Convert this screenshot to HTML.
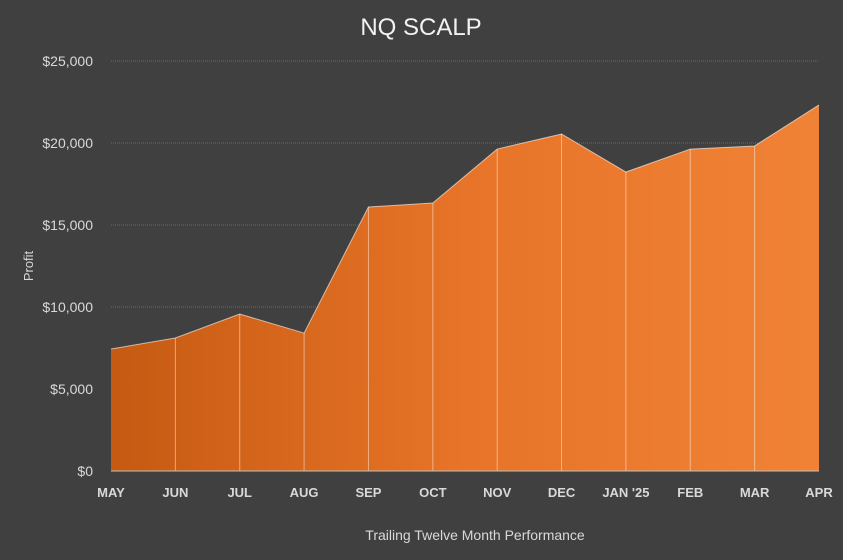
<!DOCTYPE html>
<html><head><meta charset="utf-8">
<style>
html,body{margin:0;padding:0;background:#404040;}
svg{display:block;font-family:"Liberation Sans",sans-serif;}
</style></head>
<body>
<svg id="chart" width="843" height="560" xmlns="http://www.w3.org/2000/svg">
<defs>
<linearGradient id="g" x1="0" x2="1" y1="0" y2="0">
<stop offset="0" stop-color="#c65a12"/>
<stop offset="0.5" stop-color="#e77428"/>
<stop offset="1" stop-color="#f08236"/>
</linearGradient>
</defs>
<rect width="843" height="560" fill="#404040"/>
<text x="421" y="35" text-anchor="middle" fill="#f2f2f2" font-size="24">NQ SCALP</text>
<text x="475" y="540" text-anchor="middle" fill="#d9d9d9" font-size="14">Trailing Twelve Month Performance</text>
<text transform="translate(33,266) rotate(-90)" text-anchor="middle" fill="#d9d9d9" font-size="13">Profit</text>
<g id="grid"></g><g id="area"></g><g id="ticks"></g>
</svg>
<script>
const categories=["MAY","JUN","JUL","AUG","SEP","OCT","NOV","DEC","JAN '25","FEB","MAR","APR"];
const profit=[7440,8110,9570,8410,16100,16340,19630,20550,18230,19630,19820,22320];
const yTicks=[0,5000,10000,15000,20000,25000];
const yTickLabels=["$0","$5,000","$10,000","$15,000","$20,000","$25,000"];
const NS="http://www.w3.org/2000/svg";
const x0=111,x1=819,y0=471,y1=61,yMax=25000;
const xs=i=>x0+(x1-x0)*i/(categories.length-1);
const ys=v=>y0-(y0-y1)*v/yMax;
function mk(t,a,p){const e=document.createElementNS(NS,t);for(const k in a)e.setAttribute(k,a[k]);p.appendChild(e);return e;}
const grid=document.getElementById('grid'),area=document.getElementById('area'),ticks=document.getElementById('ticks');
yTicks.forEach((v,i)=>{
 if(v>0){const l=mk('line',{x1:x0,x2:x1,y1:ys(v),y2:ys(v),stroke:'#6a6a6a','stroke-width':1,'stroke-dasharray':'1 1'},grid);
 
 }
 const t=mk('text',{x:93,y:ys(v)+5,'text-anchor':'end',fill:'#d9d9d9','font-size':14},ticks);
 t.textContent=yTickLabels[i];
 
 
});
let d='M'+xs(0)+','+y0;
profit.forEach((v,i)=>{d+=' L'+xs(i)+','+ys(v);});
d+=' L'+xs(profit.length-1)+','+y0+' Z';
const p=mk('path',{d:d,fill:'url(#g)'},area);


profit.forEach((v,i)=>{
 if(i>0&&i<profit.length-1){const l=mk('line',{x1:xs(i),x2:xs(i),y1:ys(v),y2:y0,stroke:'rgba(255,255,255,0.45)','stroke-width':1},area);
 
 }
});
const ol=mk('polyline',{points:profit.map((v,i)=>xs(i)+','+ys(v)).join(' '),fill:'none',stroke:'rgba(255,255,255,0.6)','stroke-width':1},area);


const ax=mk('line',{x1:x0,x2:x1,y1:y0,y2:y0,stroke:'#bfbfbf','stroke-width':1},area);


categories.forEach((c,i)=>{
 const t=mk('text',{x:xs(i),y:497,'text-anchor':'middle',fill:'#d9d9d9','font-size':13,'font-weight':'bold'},ticks);
 t.textContent=c;
 
 
});
</script>
</body></html>
